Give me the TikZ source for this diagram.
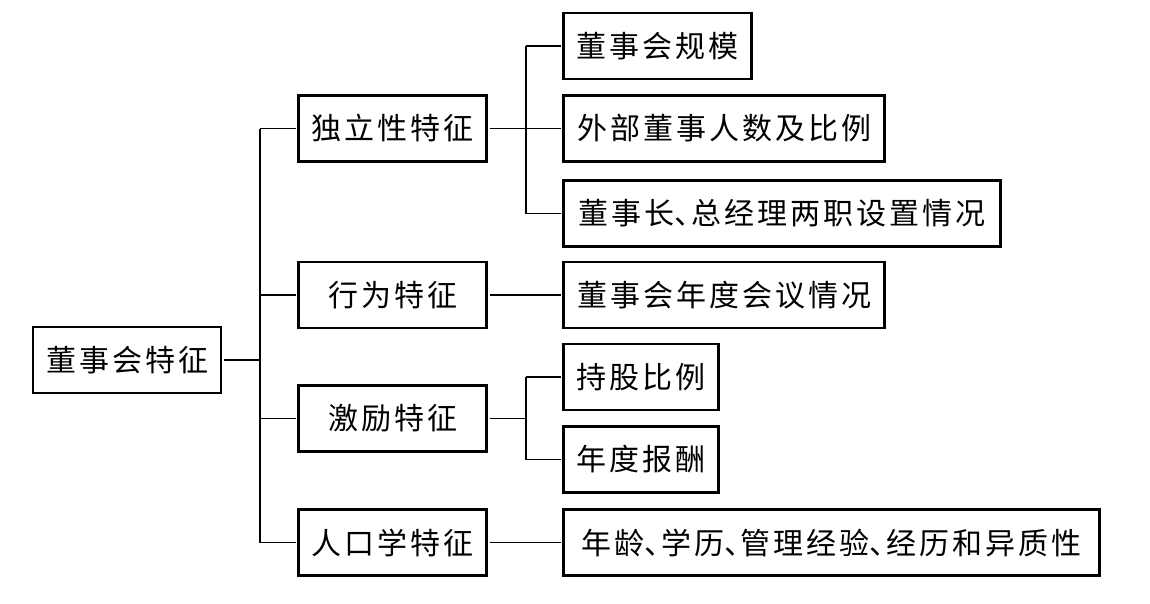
\documentclass[tikz,border=0pt]{standalone}
\usepackage{fontspec}
\newfontfamily\cjk[LetterSpace=10]{Noto Sans CJK SC}
\newcommand{\dunhao}{\makebox[0.55em][l]{、}}
\begin{document}
\begin{tikzpicture}[x=1pt,y=-1pt,
  box/.style={draw, line width=2.7pt, inner sep=0pt, outer sep=3pt,
    font=\cjk\fontsize{30}{30}\selectfont, minimum height=66pt, anchor=center},
  link/.style={line width=1.2pt}]
\useasboundingbox (0,0) rectangle (1150,603);
% root
\node[box, minimum width=188pt] (root) at (127,360) {董事会特征};
% level 2
\node[box, minimum width=188pt] (a) at (392.5,128.5) {独立性特征};
\node[box, minimum width=188pt] (b) at (392.5,295) {行为特征};
\node[box, minimum width=188pt] (c) at (392.5,418.5) {激励特征};
\node[box, minimum width=188pt] (d) at (392.5,542.5) {人口学特征};
% level 3
\node[box, minimum width=188pt] (a1) at (657.5,46) {董事会规模};
\node[box, minimum width=321pt] (a2) at (724,128.5) {外部董事人数及比例};
\node[box, minimum width=437pt] (a3) at (782,213.5) {董事长\dunhao 总经理两职设置情况};
\node[box, minimum width=321pt] (b1) at (724,295) {董事会年度会议情况};
\node[box, minimum width=155pt] (c1) at (641,377) {持股比例};
\node[box, minimum width=155pt] (c2) at (641,459.5) {年度报酬};
\node[box, minimum width=536pt] (d1) at (831.5,542.5) {年龄\dunhao 学历\dunhao 管理经验\dunhao 经历和异质性};
% junction columns
\coordinate (trunk) at (260,0);
\coordinate (j) at (526,0);
% root to trunk
\draw[link] (root.east) -- (root.east -| trunk);
\draw[link] (a.west -| trunk) -- (d.west -| trunk);
\draw[link] (a.west -| trunk) -- (a.west);
\draw[link] (b.west -| trunk) -- (b.west);
\draw[link] (c.west -| trunk) -- (c.west);
\draw[link] (d.west -| trunk) -- (d.west);
% independence branch
\draw[link] (a.east) -- (a.east -| j);
\draw[link] (a1.west -| j) -- (a3.west -| j);
\draw[link] (a1.west -| j) -- (a1.west);
\draw[link] (a2.west -| j) -- (a2.west);
\draw[link] (a3.west -| j) -- (a3.west);
% behaviour
\draw[link] (b.east) -- (b1.west);
% incentive
\draw[link] (c.east) -- (c.east -| j);
\draw[link] (c1.west -| j) -- (c2.west -| j);
\draw[link] (c1.west -| j) -- (c1.west);
\draw[link] (c2.west -| j) -- (c2.west);
% demographics
\draw[link] (d.east) -- (d1.west);
\end{tikzpicture}
\end{document}
